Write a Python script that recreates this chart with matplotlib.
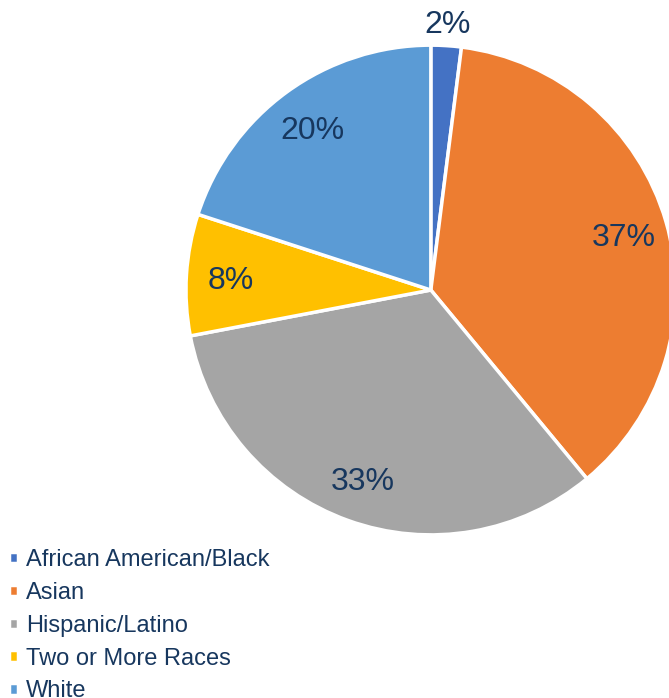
import numpy as np
import matplotlib
matplotlib.use("Agg")
import matplotlib.pyplot as plt

categories = ["African American/Black", "Asian", "Hispanic/Latino", "Two or More Races", "White"]
shares = [2, 37, 33, 8, 20]
colors = ["#4472C4", "#ED7D31", "#A5A5A5", "#FFC000", "#5B9BD5"]
text_color = "#17375E"

plt.rcParams['font.family'] = ['Liberation Sans', 'DejaVu Sans']

fig = plt.figure(figsize=(6.69, 6.98), dpi=100)
ax = fig.add_axes([0.278, 0.2335, 0.732, 0.702])

wedges, texts, pcts = ax.pie(shares, colors=colors, startangle=90, counterclock=False,
                             autopct='%1.0f%%', pctdistance=0.82,
                             wedgeprops=dict(edgecolor='white', linewidth=2.5),
                             textprops=dict(color=text_color, fontsize=23))
for t in pcts:
    t.set_verticalalignment('center_baseline')
# small slice label sits outside the pie
x, y = pcts[0].get_position()
pcts[0].set_position((x / 0.82 * 1.1, y / 0.82 * 1.1))
ax.set_xlim(-1, 1)
ax.set_ylim(-1, 1)
ax.set_aspect('equal')

fig.legend(wedges, categories, loc='upper left', bbox_to_anchor=(0.014, 0.2135),
           frameon=False, fontsize=17, labelcolor=text_color,
           handlelength=0.36, handleheight=0.36, handletextpad=0.33,
           labelspacing=0.46, borderaxespad=0.0, borderpad=0.0)

fig.savefig("out.png", dpi=100)
